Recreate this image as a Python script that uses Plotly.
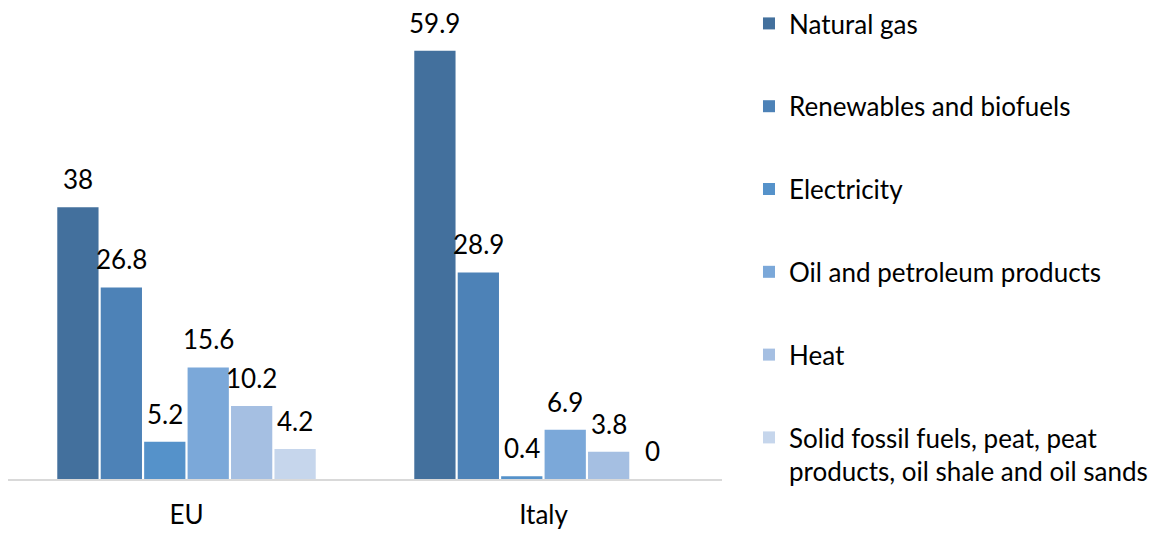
import plotly.graph_objects as go

# Share of final energy consumption by fuel (%), EU vs Italy
regions = ["EU", "Italy"]
fuels = [
    "Natural gas",
    "Renewables and biofuels",
    "Electricity",
    "Oil and petroleum products",
    "Heat",
    "Solid fossil fuels, peat, peat<br>products, oil shale and oil sands",
]
natural_gas = [38, 59.9]
renewables = [26.8, 28.9]
electricity = [5.2, 0.4]
oil = [15.6, 6.9]
heat = [10.2, 3.8]
solid_fossil = [4.2, 0]

series = [natural_gas, renewables, electricity, oil, heat, solid_fossil]
colors = ["#43709D", "#4D82B7", "#5592CA", "#7BA8D9", "#A5BFE2", "#C6D6EC"]

FONT = "Lato"
FS = 26
BARGAP = 0.27
GROUPGAP = 0.05

fig = go.Figure()
for i, (name, vals, col) in enumerate(zip(fuels, series, colors)):
    fig.add_trace(go.Bar(
        name=name,
        x=regions,
        y=vals,
        marker=dict(color=col, line=dict(width=0)),
        legendgroup=f"g{i}",
        hoverinfo="skip",
    ))

# value labels above each bar
n = len(series)
slot = (1 - BARGAP) / n
annotations = []
for i, vals in enumerate(series):
    off = -(1 - BARGAP) / 2 + (i + 0.5) * slot
    for j, v in enumerate(vals):
        annotations.append(dict(
            x=j + off, y=v, xref="x", yref="y",
            text=f"{v:g}", showarrow=False,
            yanchor="bottom", xanchor="center", yshift=10,
            font=dict(family=FONT, size=FS, color="#000000"),
        ))

fig.update_layout(
    width=1156, height=533,
    margin=dict(l=8, r=434, t=10, b=54, autoexpand=False),
    paper_bgcolor="white", plot_bgcolor="white",
    barmode="group", bargap=BARGAP, bargroupgap=GROUPGAP,
    font=dict(family=FONT, size=FS, color="#000000"),
    annotations=annotations,
    showlegend=True,
    legend=dict(
        x=1.0378, xanchor="left", y=1.0213, yanchor="top",
        tracegroupgap=46, valign="top", maxheight=533,
        font=dict(family=FONT, size=FS, color="#000000"),
        traceorder="grouped",
    ),
    xaxis=dict(
        showline=True, linecolor="#D9D9D9", linewidth=2,
        showgrid=False, zeroline=False, ticks="",
        ticklabelstandoff=12, automargin=False,
        tickfont=dict(family=FONT, size=FS, color="#000000"),
    ),
    yaxis=dict(
        range=[0, 65.6], visible=False, showgrid=False, zeroline=False,
        automargin=False,
    ),
)

fig.write_html("out.html")
